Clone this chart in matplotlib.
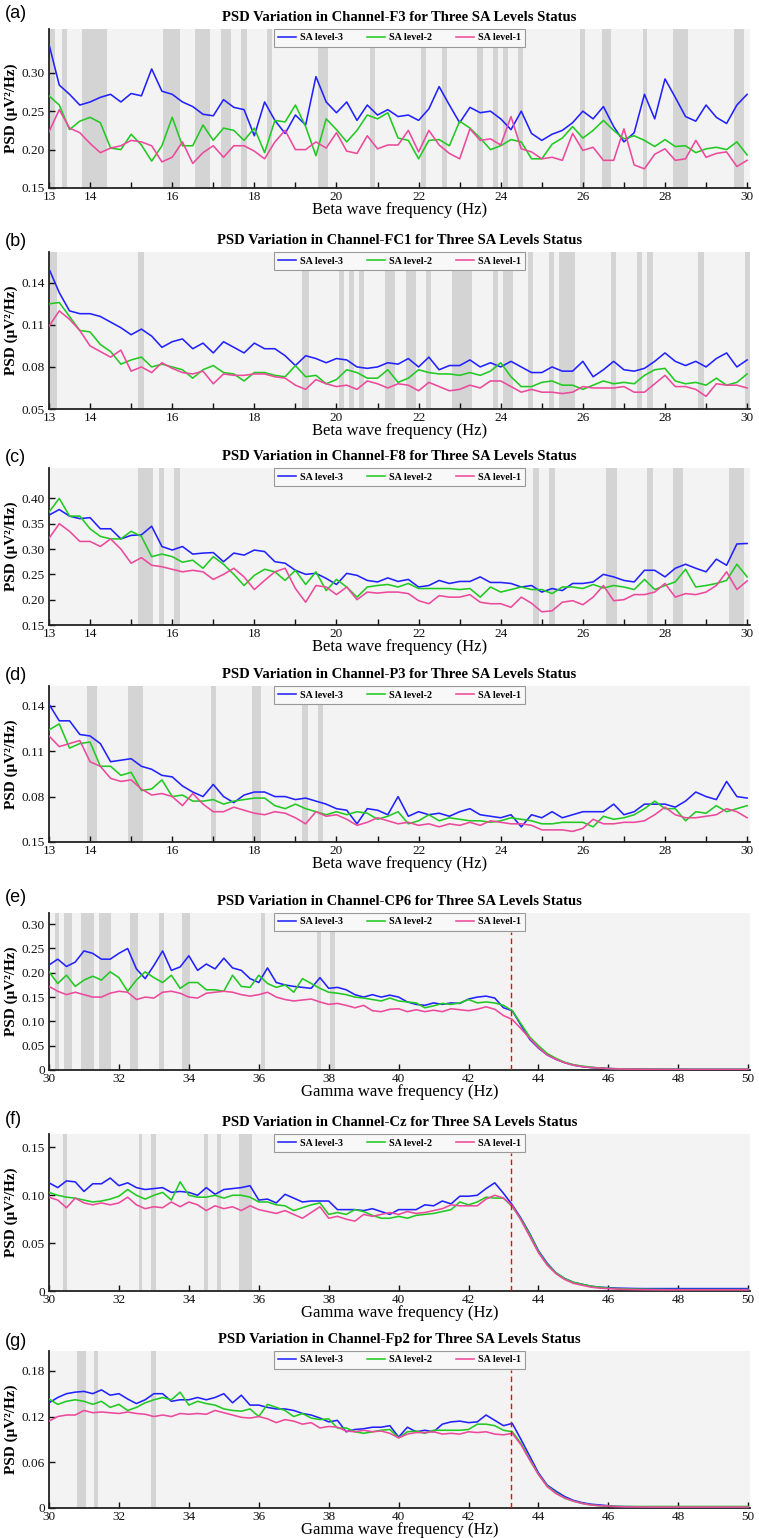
import numpy as np
import matplotlib.pyplot as plt

plt.rcParams['font.family'] = ['Liberation Serif', 'DejaVu Serif']

#%% Data
beta_freq = np.arange(13, 30.001, 0.25)    # Hz, 69 bins
gamma_freq = np.arange(30, 50.001, 0.25)   # Hz, 81 bins

levels = ['SA level-3', 'SA level-2', 'SA level-1']
colors = ['#2222ff', '#22c922', '#ec4a9c']

# (a) Channel F3
f3_sa3 = [0.337, 0.284, 0.272, 0.258,
          0.262, 0.268, 0.272, 0.262,
          0.273, 0.270, 0.305, 0.276,
          0.272, 0.262, 0.256, 0.246,
          0.244, 0.265, 0.255, 0.252,
          0.218, 0.262, 0.238, 0.221,
          0.245, 0.232, 0.295, 0.262,
          0.248, 0.262, 0.238, 0.258,
          0.245, 0.252, 0.243, 0.245,
          0.238, 0.253, 0.282, 0.258,
          0.235, 0.255, 0.248, 0.250,
          0.240, 0.226, 0.250, 0.221,
          0.212, 0.220, 0.225, 0.235,
          0.250, 0.240, 0.256, 0.230,
          0.210, 0.222, 0.272, 0.240,
          0.292, 0.268, 0.243, 0.237,
          0.258, 0.242, 0.234, 0.258,
          0.272]
f3_sa2 = [0.270, 0.258, 0.226, 0.237,
          0.242, 0.235, 0.202, 0.200,
          0.220, 0.206, 0.185, 0.205,
          0.242, 0.205, 0.205, 0.232,
          0.212, 0.228, 0.225, 0.212,
          0.228, 0.196, 0.238, 0.236,
          0.258, 0.230, 0.192, 0.240,
          0.226, 0.210, 0.225, 0.245,
          0.240, 0.248, 0.215, 0.212,
          0.188, 0.212, 0.213, 0.205,
          0.237, 0.228, 0.215, 0.200,
          0.205, 0.213, 0.210, 0.188,
          0.188, 0.207, 0.215, 0.230,
          0.215, 0.225, 0.238, 0.225,
          0.214, 0.218, 0.212, 0.204,
          0.213, 0.204, 0.205, 0.196,
          0.201, 0.203, 0.200, 0.210,
          0.193]
f3_sa1 = [0.223, 0.252, 0.228, 0.222,
          0.208, 0.196, 0.202, 0.205,
          0.212, 0.210, 0.205, 0.184,
          0.190, 0.210, 0.182, 0.196,
          0.205, 0.190, 0.205, 0.205,
          0.198, 0.188, 0.210, 0.225,
          0.200, 0.200, 0.210, 0.202,
          0.222, 0.198, 0.195, 0.218,
          0.201, 0.206, 0.206, 0.225,
          0.197, 0.225, 0.206, 0.195,
          0.188, 0.227, 0.212, 0.214,
          0.206, 0.243, 0.201, 0.197,
          0.188, 0.190, 0.186, 0.221,
          0.199, 0.203, 0.186, 0.186,
          0.227, 0.180, 0.175, 0.194,
          0.201, 0.186, 0.188, 0.212,
          0.190, 0.195, 0.197, 0.178,
          0.186]
f3_bands = [(13.0, 13.15), (13.32, 13.43), (13.8, 14.42), (15.78, 16.19),
            (16.56, 16.92), (17.2, 17.43), (17.67, 17.81), (18.3, 18.42),
            (19.56, 19.8), (20.82, 20.94), (22.05, 22.18), (22.56, 22.69),
            (23.43, 23.56), (23.8, 23.94), (24.06, 24.18), (24.43, 24.55),
            (25.93, 26.05), (26.46, 26.68), (27.46, 27.57), (28.19, 28.57),
            (29.69, 29.93)]

# (b) Channel FC1
fc1_sa3 = [0.150, 0.133, 0.120, 0.118,
           0.118, 0.116, 0.112, 0.108,
           0.103, 0.107, 0.102, 0.094,
           0.098, 0.100, 0.093, 0.097,
           0.090, 0.098, 0.094, 0.090,
           0.097, 0.093, 0.093, 0.088,
           0.081, 0.088, 0.086, 0.083,
           0.086, 0.085, 0.080, 0.079,
           0.080, 0.083, 0.082, 0.086,
           0.080, 0.087, 0.078, 0.081,
           0.081, 0.085, 0.080, 0.083,
           0.080, 0.084, 0.080, 0.076,
           0.076, 0.080, 0.077, 0.077,
           0.084, 0.073, 0.078, 0.084,
           0.078, 0.077, 0.079, 0.084,
           0.090, 0.084, 0.081, 0.084,
           0.080, 0.086, 0.090, 0.080,
           0.085]
fc1_sa2 = [0.125, 0.126, 0.116, 0.106,
           0.105, 0.096, 0.091, 0.082,
           0.085, 0.087, 0.080, 0.082,
           0.080, 0.078, 0.072, 0.078,
           0.081, 0.076, 0.075, 0.070,
           0.076, 0.076, 0.074, 0.073,
           0.081, 0.073, 0.074, 0.068,
           0.071, 0.078, 0.076, 0.072,
           0.072, 0.078, 0.069, 0.072,
           0.078, 0.076, 0.075, 0.075,
           0.074, 0.076, 0.074, 0.077,
           0.083, 0.073, 0.066, 0.066,
           0.069, 0.070, 0.067, 0.067,
           0.064, 0.067, 0.070, 0.068,
           0.069, 0.068, 0.074, 0.078,
           0.079, 0.070, 0.068, 0.069,
           0.067, 0.072, 0.067, 0.069,
           0.075]
fc1_sa1 = [0.109, 0.120, 0.114, 0.106,
           0.095, 0.091, 0.087, 0.092,
           0.077, 0.080, 0.076, 0.083,
           0.079, 0.076, 0.075, 0.077,
           0.068, 0.075, 0.074, 0.074,
           0.075, 0.075, 0.073, 0.072,
           0.067, 0.064, 0.071, 0.068,
           0.066, 0.067, 0.064, 0.070,
           0.068, 0.065, 0.068, 0.067,
           0.063, 0.069, 0.066, 0.063,
           0.064, 0.067, 0.065, 0.070,
           0.070, 0.066, 0.062, 0.064,
           0.062, 0.062, 0.061, 0.062,
           0.066, 0.065, 0.065, 0.065,
           0.066, 0.062, 0.062, 0.068,
           0.074, 0.066, 0.066, 0.064,
           0.059, 0.068, 0.067, 0.067,
           0.065]
fc1_bands = [(13.02, 13.19), (15.17, 15.31), (19.17, 19.32), (20.07, 20.19),
             (20.31, 20.43), (20.56, 20.68), (21.18, 21.43), (21.69, 21.94),
             (22.18, 22.3), (22.81, 23.29), (23.82, 23.94), (24.06, 24.31),
             (24.67, 24.79), (25.18, 25.3), (25.43, 25.81), (26.69, 26.81),
             (27.31, 27.43), (27.57, 27.7), (28.81, 28.94), (29.95, 30.07)]

# (c) Channel F8
f8_sa3 = [0.367, 0.378, 0.365, 0.360,
          0.362, 0.340, 0.340, 0.320,
          0.327, 0.328, 0.345, 0.305,
          0.298, 0.305, 0.290, 0.292,
          0.293, 0.275, 0.292, 0.288,
          0.298, 0.295, 0.275, 0.272,
          0.258, 0.250, 0.252, 0.242,
          0.230, 0.252, 0.248, 0.238,
          0.235, 0.243, 0.236, 0.240,
          0.225, 0.228, 0.238, 0.232,
          0.236, 0.236, 0.245, 0.234,
          0.234, 0.232, 0.225, 0.228,
          0.215, 0.222, 0.218, 0.232,
          0.232, 0.235, 0.250, 0.245,
          0.238, 0.235, 0.258, 0.258,
          0.245, 0.262, 0.270, 0.262,
          0.255, 0.280, 0.268, 0.310,
          0.311]
f8_sa2 = [0.373, 0.400, 0.365, 0.365,
          0.340, 0.325, 0.320, 0.320,
          0.335, 0.325, 0.285, 0.290,
          0.285, 0.274, 0.278, 0.262,
          0.285, 0.270, 0.250, 0.228,
          0.248, 0.260, 0.255, 0.238,
          0.258, 0.230, 0.255, 0.218,
          0.240, 0.225, 0.205, 0.225,
          0.228, 0.230, 0.225, 0.232,
          0.222, 0.222, 0.222, 0.222,
          0.220, 0.222, 0.205, 0.225,
          0.215, 0.220, 0.225, 0.220,
          0.220, 0.212, 0.225, 0.225,
          0.222, 0.230, 0.223, 0.228,
          0.225, 0.220, 0.240, 0.220,
          0.228, 0.235, 0.260, 0.225,
          0.228, 0.232, 0.238, 0.270,
          0.245]
f8_sa1 = [0.321, 0.350, 0.335, 0.315,
          0.315, 0.305, 0.320, 0.300,
          0.272, 0.283, 0.268, 0.265,
          0.260, 0.255, 0.258, 0.255,
          0.240, 0.250, 0.262, 0.245,
          0.220, 0.238, 0.255, 0.262,
          0.222, 0.195, 0.228, 0.225,
          0.210, 0.225, 0.200, 0.215,
          0.213, 0.215, 0.215, 0.212,
          0.198, 0.192, 0.208, 0.205,
          0.205, 0.210, 0.195, 0.192,
          0.192, 0.185, 0.205, 0.193,
          0.176, 0.178, 0.195, 0.198,
          0.190, 0.205, 0.228, 0.198,
          0.200, 0.210, 0.210, 0.215,
          0.232, 0.205, 0.212, 0.210,
          0.215, 0.228, 0.255, 0.220,
          0.237]
f8_bands = [(15.17, 15.54), (15.68, 15.81), (16.05, 16.19), (24.79, 24.93),
            (25.18, 25.31), (26.57, 26.83), (27.57, 27.7), (28.19, 28.45),
            (29.57, 29.93)]

# (d) Channel P3
p3_sa3 = [0.141, 0.130, 0.130, 0.121,
          0.120, 0.115, 0.103, 0.104,
          0.105, 0.100, 0.098, 0.094,
          0.093, 0.087, 0.083, 0.080,
          0.088, 0.080, 0.076, 0.081,
          0.083, 0.083, 0.080, 0.080,
          0.078, 0.079, 0.077, 0.075,
          0.072, 0.071, 0.062, 0.072,
          0.071, 0.068, 0.080, 0.067,
          0.070, 0.068, 0.069, 0.067,
          0.070, 0.072, 0.068, 0.067,
          0.066, 0.068, 0.060, 0.068,
          0.066, 0.070, 0.066, 0.068,
          0.070, 0.070, 0.070, 0.075,
          0.068, 0.070, 0.075, 0.075,
          0.075, 0.073, 0.077, 0.083,
          0.080, 0.078, 0.090, 0.080,
          0.079]
p3_sa2 = [0.124, 0.128, 0.112, 0.115,
          0.116, 0.100, 0.100, 0.094,
          0.096, 0.084, 0.085, 0.091,
          0.080, 0.081, 0.077, 0.077,
          0.078, 0.075, 0.077, 0.078,
          0.079, 0.079, 0.074, 0.072,
          0.075, 0.072, 0.070, 0.068,
          0.070, 0.068, 0.070, 0.069,
          0.065, 0.067, 0.070, 0.062,
          0.064, 0.068, 0.064, 0.066,
          0.065, 0.064, 0.064, 0.063,
          0.064, 0.066, 0.065, 0.064,
          0.062, 0.062, 0.063, 0.063,
          0.063, 0.060, 0.067, 0.065,
          0.066, 0.068, 0.072, 0.077,
          0.072, 0.072, 0.064, 0.070,
          0.069, 0.074, 0.070, 0.072,
          0.074]
p3_sa1 = [0.120, 0.113, 0.115, 0.117,
          0.103, 0.100, 0.092, 0.090,
          0.091, 0.085, 0.081, 0.082,
          0.080, 0.074, 0.082, 0.075,
          0.070, 0.070, 0.073, 0.071,
          0.069, 0.068, 0.070, 0.069,
          0.066, 0.062, 0.070, 0.067,
          0.068, 0.065, 0.061, 0.063,
          0.066, 0.064, 0.062, 0.063,
          0.061, 0.062, 0.060, 0.062,
          0.061, 0.063, 0.061, 0.064,
          0.063, 0.062, 0.062, 0.061,
          0.058, 0.058, 0.058, 0.057,
          0.059, 0.065, 0.062, 0.062,
          0.063, 0.063, 0.064, 0.068,
          0.073, 0.068, 0.066, 0.066,
          0.067, 0.068, 0.072, 0.070,
          0.066]
p3_bands = [(13.93, 14.18), (14.93, 15.3), (16.94, 17.06), (17.94, 18.16),
            (19.17, 19.3), (19.56, 19.68)]

# (e) Channel CP6
cp6_sa3 = [0.216, 0.228, 0.213, 0.222,
           0.245, 0.240, 0.228, 0.228,
           0.240, 0.250, 0.208, 0.188,
           0.215, 0.245, 0.205, 0.212,
           0.235, 0.205, 0.218, 0.208,
           0.230, 0.210, 0.205, 0.188,
           0.180, 0.210, 0.180, 0.175,
           0.172, 0.170, 0.168, 0.190,
           0.168, 0.170, 0.165, 0.155,
           0.150, 0.155, 0.150, 0.154,
           0.150, 0.140, 0.135, 0.133,
           0.138, 0.135, 0.138, 0.137,
           0.146, 0.150, 0.152, 0.148,
           0.128, 0.122, 0.092, 0.063,
           0.045, 0.031, 0.022, 0.015,
           0.010, 0.007, 0.005, 0.004,
           0.0030, 0.0025, 0.0020, 0.0020,
           0.0018, 0.0017, 0.0016, 0.0015,
           0.0015, 0.0014, 0.0014, 0.0014,
           0.0014, 0.0014, 0.0014, 0.0014,
           0.0014]
cp6_sa2 = [0.202, 0.178, 0.195, 0.172,
           0.185, 0.193, 0.185, 0.202,
           0.190, 0.162, 0.185, 0.202,
           0.190, 0.180, 0.195, 0.168,
           0.180, 0.180, 0.165, 0.165,
           0.162, 0.195, 0.172, 0.170,
           0.195, 0.178, 0.170, 0.175,
           0.160, 0.188, 0.178, 0.168,
           0.160, 0.158, 0.155, 0.150,
           0.148, 0.145, 0.142, 0.148,
           0.142, 0.140, 0.138, 0.128,
           0.132, 0.137, 0.135, 0.138,
           0.145, 0.138, 0.140, 0.138,
           0.133, 0.122, 0.095, 0.068,
           0.050, 0.034, 0.024, 0.016,
           0.011, 0.008, 0.006, 0.004,
           0.0030, 0.0025, 0.0020, 0.0019,
           0.0018, 0.0017, 0.0016, 0.0015,
           0.0015, 0.0014, 0.0014, 0.0014,
           0.0014, 0.0014, 0.0014, 0.0014,
           0.0014]
cp6_sa1 = [0.172, 0.162, 0.155, 0.160,
           0.155, 0.150, 0.150, 0.158,
           0.162, 0.160, 0.145, 0.150,
           0.148, 0.160, 0.162, 0.158,
           0.150, 0.148, 0.158, 0.160,
           0.162, 0.160, 0.155, 0.152,
           0.155, 0.160, 0.150, 0.145,
           0.142, 0.144, 0.146, 0.140,
           0.135, 0.137, 0.133, 0.128,
           0.133, 0.122, 0.120, 0.125,
           0.126, 0.120, 0.124, 0.120,
           0.123, 0.120, 0.126, 0.124,
           0.122, 0.125, 0.130, 0.125,
           0.112, 0.104, 0.085, 0.065,
           0.046, 0.031, 0.022, 0.015,
           0.010, 0.007, 0.005, 0.004,
           0.0030, 0.0022, 0.0018, 0.0016,
           0.0015, 0.0014, 0.0013, 0.0012,
           0.0012, 0.0012, 0.0012, 0.0012,
           0.0012, 0.0012, 0.0012, 0.0012,
           0.0012]
cp6_bands = [(30.17, 30.28), (30.43, 30.67), (30.92, 31.28), (31.44, 31.78),
             (32.31, 32.55), (33.16, 33.28), (33.8, 34.04), (36.05, 36.18),
             (37.67, 37.79), (38.05, 38.17)]

# (f) Channel Cz
cz_sa3 = [0.113, 0.108, 0.115, 0.114,
          0.104, 0.112, 0.112, 0.118,
          0.110, 0.113, 0.108, 0.106,
          0.107, 0.108, 0.103, 0.104,
          0.103, 0.100, 0.108, 0.101,
          0.106, 0.107, 0.108, 0.110,
          0.095, 0.096, 0.092, 0.101,
          0.097, 0.093, 0.094, 0.094,
          0.094, 0.085, 0.085, 0.085,
          0.084, 0.086, 0.083, 0.080,
          0.085, 0.085, 0.085, 0.090,
          0.089, 0.094, 0.091, 0.099,
          0.099, 0.100, 0.107, 0.113,
          0.102, 0.090, 0.076, 0.060,
          0.042, 0.029, 0.019, 0.013,
          0.009, 0.007, 0.005, 0.004,
          0.0035, 0.0030, 0.0028, 0.0026,
          0.0025, 0.0025, 0.0025, 0.0025,
          0.0025, 0.0025, 0.0025, 0.0025,
          0.0025, 0.0025, 0.0025, 0.0025,
          0.0025]
cz_sa2 = [0.103, 0.100, 0.098, 0.097,
          0.095, 0.093, 0.094, 0.096,
          0.099, 0.106, 0.100, 0.096,
          0.100, 0.103, 0.095, 0.114,
          0.100, 0.098, 0.098, 0.100,
          0.097, 0.100, 0.100, 0.098,
          0.093, 0.093, 0.090, 0.089,
          0.084, 0.087, 0.090, 0.092,
          0.080, 0.082, 0.080, 0.085,
          0.083, 0.079, 0.076, 0.076,
          0.078, 0.076, 0.079, 0.080,
          0.081, 0.083, 0.085, 0.093,
          0.090, 0.093, 0.098, 0.097,
          0.097, 0.088, 0.075, 0.059,
          0.041, 0.028, 0.019, 0.013,
          0.009, 0.007, 0.005, 0.004,
          0.0030, 0.0025, 0.0022, 0.0020,
          0.0018, 0.0017, 0.0016, 0.0015,
          0.0015, 0.0015, 0.0015, 0.0015,
          0.0015, 0.0015, 0.0015, 0.0015,
          0.0015]
cz_sa1 = [0.098, 0.095, 0.087, 0.097,
          0.092, 0.090, 0.092, 0.090,
          0.092, 0.098, 0.090, 0.086,
          0.088, 0.087, 0.093, 0.088,
          0.093, 0.090, 0.084, 0.089,
          0.086, 0.088, 0.084, 0.089,
          0.085, 0.083, 0.081, 0.084,
          0.080, 0.076, 0.082, 0.088,
          0.076, 0.078, 0.075, 0.073,
          0.080, 0.078, 0.080, 0.082,
          0.080, 0.083, 0.081, 0.082,
          0.084, 0.086, 0.090, 0.089,
          0.089, 0.089, 0.096, 0.100,
          0.097, 0.089, 0.074, 0.057,
          0.040, 0.027, 0.018, 0.012,
          0.008, 0.006, 0.004, 0.003,
          0.0025, 0.0020, 0.0017, 0.0015,
          0.0014, 0.0013, 0.0012, 0.0012,
          0.0012, 0.0012, 0.0012, 0.0012,
          0.0012, 0.0012, 0.0012, 0.0012,
          0.0012]
cz_bands = [(30.39, 30.51), (32.56, 32.67), (32.93, 33.05), (34.43, 34.55),
            (34.8, 34.93), (35.44, 35.81)]

# (g) Channel Fp2
fp2_sa3 = [0.138, 0.145, 0.150, 0.152,
           0.153, 0.150, 0.155, 0.148,
           0.150, 0.143, 0.137, 0.142,
           0.150, 0.150, 0.140, 0.142,
           0.142, 0.145, 0.142, 0.145,
           0.150, 0.138, 0.148, 0.135,
           0.135, 0.132, 0.130, 0.130,
           0.128, 0.124, 0.122, 0.118,
           0.113, 0.115, 0.100, 0.103,
           0.104, 0.106, 0.106, 0.108,
           0.093, 0.106, 0.100, 0.102,
           0.100, 0.110, 0.113, 0.114,
           0.112, 0.113, 0.122, 0.115,
           0.108, 0.111, 0.090, 0.068,
           0.046, 0.030, 0.022, 0.015,
           0.010, 0.007, 0.005, 0.004,
           0.0030, 0.0020, 0.0018, 0.0016,
           0.0015, 0.0015, 0.0015, 0.0015,
           0.0015, 0.0015, 0.0015, 0.0015,
           0.0015, 0.0015, 0.0015, 0.0015,
           0.0015]
fp2_sa2 = [0.143, 0.136, 0.140, 0.142,
           0.140, 0.136, 0.140, 0.132,
           0.136, 0.128, 0.132, 0.138,
           0.142, 0.145, 0.142, 0.152,
           0.135, 0.140, 0.137, 0.135,
           0.130, 0.128, 0.127, 0.130,
           0.120, 0.136, 0.132, 0.128,
           0.120, 0.124, 0.118, 0.116,
           0.117, 0.105, 0.105, 0.100,
           0.098, 0.100, 0.102, 0.103,
           0.092, 0.100, 0.101, 0.098,
           0.102, 0.102, 0.102, 0.102,
           0.103, 0.110, 0.110, 0.108,
           0.102, 0.100, 0.085, 0.064,
           0.044, 0.029, 0.020, 0.013,
           0.009, 0.006, 0.004, 0.003,
           0.0025, 0.0022, 0.0020, 0.0020,
           0.0020, 0.0020, 0.0020, 0.0020,
           0.0020, 0.0020, 0.0020, 0.0020,
           0.0020, 0.0020, 0.0020, 0.0020,
           0.0020]
fp2_sa1 = [0.114, 0.120, 0.122, 0.122,
           0.128, 0.125, 0.126, 0.125,
           0.124, 0.126, 0.124, 0.123,
           0.120, 0.122, 0.120, 0.124,
           0.123, 0.124, 0.123, 0.128,
           0.125, 0.122, 0.119, 0.118,
           0.120, 0.117, 0.112, 0.116,
           0.114, 0.110, 0.112, 0.105,
           0.107, 0.106, 0.101, 0.100,
           0.102, 0.100, 0.101, 0.098,
           0.092, 0.097, 0.099, 0.099,
           0.100, 0.097, 0.098, 0.097,
           0.100, 0.099, 0.100, 0.097,
           0.096, 0.098, 0.083, 0.063,
           0.044, 0.028, 0.019, 0.013,
           0.009, 0.006, 0.004, 0.003,
           0.0025, 0.0018, 0.0015, 0.0014,
           0.0013, 0.0012, 0.0012, 0.0012,
           0.0012, 0.0012, 0.0012, 0.0012,
           0.0012, 0.0012, 0.0012, 0.0012,
           0.0012]
fp2_bands = [(30.79, 31.05), (31.29, 31.4), (32.93, 33.05)]

# axis ticks
beta_ticks = list(range(13, 31))
beta_ticklabels = ['13', '14'] + [str(t) if t % 2 == 0 else '' for t in range(15, 31)]
gamma_ticks = list(range(30, 51, 2))
gamma_ticklabels = [str(t) for t in gamma_ticks]

cutoff_hz = 43.2

#%% Plot
W, H = 759, 1538
fig = plt.figure(figsize=(W / 100, H / 100), dpi=100)


def make_panel(top, bottom, letter, letter_y, channel, freq, series, bands,
               ylim, yticks, yticklabels, xlim, xticks, xticklabels, xlabel,
               right=750, cutoff=None):
    left = 49
    ax = fig.add_axes([left / W, 1 - bottom / H, (right - left) / W, (bottom - top) / H])
    ax.set_facecolor('#f3f3f3')
    for lo, hi in bands:
        ax.axvspan(lo, hi, color='#d4d4d4', lw=0, zorder=1)
    for vals, lab, col in zip(series, levels, colors):
        ax.plot(freq, vals, color=col, lw=1.15, label=lab, zorder=3)
    if cutoff is not None:
        ax.axvline(cutoff, ymin=0, ymax=0.88, color='red', ls=(0, (4, 2.5)), lw=1.0, zorder=4)

    ax.set_xlim(xlim)
    ax.set_ylim(ylim)
    ax.set_xticks(xticks)
    ax.set_xticklabels(xticklabels)
    ax.set_yticks(yticks)
    ax.set_yticklabels(yticklabels)
    ax.tick_params(direction='in', length=4, width=1, labelsize=9.5, colors='#111111')
    ax.tick_params(axis='x', pad=2)
    ax.tick_params(axis='y', pad=3)
    for s in ['top', 'right']:
        ax.spines[s].set_visible(False)
    for s in ['left', 'bottom']:
        ax.spines[s].set_linewidth(1.3)
        ax.spines[s].set_color('#222222')

    h = bottom - top
    ax.set_title(f'PSD Variation in Channel-{channel} for Three SA Levels Status',
                 fontsize=10.5, fontweight='bold', pad=6)
    ax.set_xlabel(xlabel, fontsize=12)
    ax.xaxis.set_label_coords(0.5, -14 / h)
    ax.set_ylabel('PSD (μV²/Hz)', fontsize=11, fontweight='bold')
    ax.yaxis.set_label_coords(-(left - 18) / (right - left), 0.5)

    leg = ax.legend(loc='upper center', bbox_to_anchor=(0.5, 1.0), ncol=3,
                    prop={'weight': 'bold', 'size': 7.2}, frameon=True,
                    fancybox=False, edgecolor='#999999', facecolor='#f8f8f8',
                    framealpha=1, handlelength=1.8, handletextpad=0.4,
                    columnspacing=2.4, borderpad=0.45, borderaxespad=0)
    leg.get_frame().set_linewidth(0.8)
    leg.set_zorder(5)

    fig.text(5 / W, 1 - letter_y / H, letter, family='Liberation Sans',
             fontsize=13, va='center', ha='left')
    return ax


beta_x = 'Beta wave frequency (Hz)'
gamma_x = 'Gamma wave frequency (Hz)'

make_panel(29, 188, '(a)', 14, 'F3', beta_freq, [f3_sa3, f3_sa2, f3_sa1], f3_bands,
           (0.15, 0.357), [0.15, 0.20, 0.25, 0.30], ['0.15', '0.20', '0.25', '0.30'],
           (13, 30.07), beta_ticks, beta_ticklabels, beta_x)
make_panel(252, 409, '(b)', 241, 'FC1', beta_freq, [fc1_sa3, fc1_sa2, fc1_sa1], fc1_bands,
           (0.05, 0.162), [0.05, 0.08, 0.11, 0.14], ['0.05', '0.08', '0.11', '0.14'],
           (13, 30.07), beta_ticks, beta_ticklabels, beta_x)
make_panel(468, 625, '(c)', 457, 'F8', beta_freq, [f8_sa3, f8_sa2, f8_sa1], f8_bands,
           (0.15, 0.46), [0.15, 0.20, 0.25, 0.30, 0.35, 0.40],
           ['0.15', '0.20', '0.25', '0.30', '0.35', '0.40'],
           (13, 30.07), beta_ticks, beta_ticklabels, beta_x)
make_panel(686, 842, '(d)', 675, 'P3', beta_freq, [p3_sa3, p3_sa2, p3_sa1], p3_bands,
           (0.05, 0.153), [0.05, 0.08, 0.11, 0.14], ['0.15', '0.08', '0.11', '0.14'],
           (13, 30.07), beta_ticks, beta_ticklabels, beta_x)
make_panel(913, 1070, '(e)', 898, 'CP6', gamma_freq, [cp6_sa3, cp6_sa2, cp6_sa1], cp6_bands,
           (0, 0.323), [0, 0.05, 0.10, 0.15, 0.20, 0.25, 0.30],
           ['0', '0.05', '0.10', '0.15', '0.20', '0.25', '0.30'],
           (30, 50.05), gamma_ticks, gamma_ticklabels, gamma_x, cutoff=cutoff_hz)
make_panel(1134, 1291, '(f)', 1120, 'Cz', gamma_freq, [cz_sa3, cz_sa2, cz_sa1], cz_bands,
           (0, 0.164), [0, 0.05, 0.10, 0.15], ['0', '0.05', '0.10', '0.15'],
           (30, 50.05), gamma_ticks, gamma_ticklabels, gamma_x, cutoff=cutoff_hz)
make_panel(1351, 1508, '(g)', 1341, 'Fp2', gamma_freq, [fp2_sa3, fp2_sa2, fp2_sa1], fp2_bands,
           (0, 0.206), [0, 0.06, 0.12, 0.18], ['0', '0.06', '0.12', '0.18'],
           (30, 50.05), gamma_ticks, gamma_ticklabels, gamma_x, cutoff=cutoff_hz)

fig.savefig('out.png', dpi=100)
